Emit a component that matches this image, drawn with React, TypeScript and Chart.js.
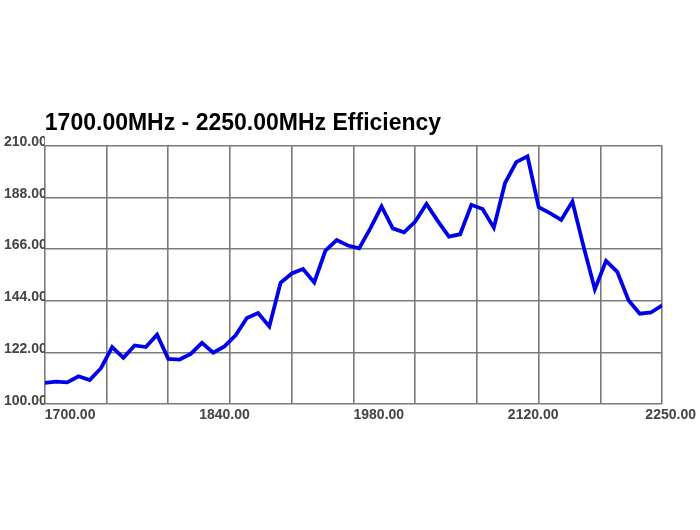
import React, { useEffect, useRef } from "react";
import { Chart, registerables } from "chart.js";

Chart.register(...registerables);

const titleText = "1700.00MHz - 2250.00MHz Efficiency";

const frequencies = [
  1700, 1710, 1720, 1730, 1740, 1750, 1760, 1770, 1780, 1790,
  1800, 1810, 1820, 1830, 1840, 1850, 1860, 1870, 1880, 1890,
  1900, 1910, 1920, 1930, 1940, 1950, 1960, 1970, 1980, 1990,
  2000, 2010, 2020, 2030, 2040, 2050, 2060, 2070, 2080, 2090,
  2100, 2110, 2120, 2130, 2140, 2150, 2160, 2170, 2180, 2190,
  2200, 2210, 2220, 2230, 2240, 2250,
];

const efficiency = [
  109.1, 109.6, 109.3, 111.9, 110.3, 115.3, 124.3, 119.7, 125.0, 124.3,
  129.6, 119.3, 119.0, 121.4, 126.1, 121.9, 124.6, 129.3, 136.7, 138.8,
  133.1, 151.6, 155.6, 157.5, 151.8, 165.3, 169.8, 167.5, 166.3, 174.8,
  184.1, 174.8, 173.1, 177.7, 185.2, 178.0, 171.3, 172.3, 184.8, 183.0,
  175.1, 194.1, 203.0, 205.4, 183.8, 181.3, 178.4, 186.2, 167.0, 148.9,
  161.0, 156.3, 144.2, 138.5, 139.0, 142.1,
];

// x-axis label positions (axis values) and their texts
const xLabelValues = [1700, 1837.5, 1975, 2112.5, 2235];
const xTickLabels = ["1700.00", "1840.00", "1980.00", "2120.00", "2250.00"];

const xMin = 1700;
const xMax = 2250;
const xGridStep = 55;
const yMin = 100;
const yMax = 210;
const yStep = 22;

export default function App() {
  const canvasRef = useRef<HTMLCanvasElement | null>(null);

  useEffect(() => {
    if (!canvasRef.current) return;
    Chart.defaults.font.family = "'Liberation Sans', Arial, sans-serif";
    const gridColor = "#7a7a7a";
    const tickColor = "#444";
    const chart = new Chart(canvasRef.current, {
      type: "line",
      data: {
        datasets: [
          {
            data: frequencies.map((f, i) => ({ x: f, y: efficiency[i] })),
            borderColor: "#0000e8",
            borderWidth: 3.8,
            pointRadius: 0,
            tension: 0,
            fill: false,
            xAxisID: "x",
            yAxisID: "y",
          },
        ],
      },
      options: {
        animation: false,
        responsive: false,
        layout: { padding: { top: 110, left: 4, right: 3, bottom: 103 } },
        plugins: {
          legend: { display: false },
          tooltip: { enabled: false },
          title: {
            display: true,
            text: titleText,
            align: "start",
            fullSize: false,
            color: "#000",
            font: { size: 23, weight: "bold" },
            padding: { top: 0, bottom: 8 },
          },
        },
        scales: {
          x: {
            type: "linear",
            position: "bottom",
            min: xMin,
            max: xMax,
            border: { display: false },
            grid: { color: gridColor, lineWidth: 1.6, drawTicks: false },
            ticks: { display: false, stepSize: xGridStep },
          },
          xLabels: {
            type: "linear",
            position: "bottom",
            min: xMin,
            max: xMax,
            border: { display: false },
            grid: { display: false, drawTicks: false },
            afterBuildTicks: (axis: any) => {
              axis.ticks = xLabelValues.map((v) => ({ value: v }));
            },
            ticks: {
              align: "start",
              autoSkip: false,
              maxRotation: 0,
              minRotation: 0,
              padding: 3,
              color: tickColor,
              font: { size: 14, weight: "bold" },
              callback: (_v: any, i: number) => xTickLabels[i],
            },
          },
          y: {
            type: "linear",
            min: yMin,
            max: yMax,
            border: { display: false },
            grid: { color: gridColor, lineWidth: 1.6, drawTicks: false },
            ticks: {
              stepSize: yStep,
              crossAlign: "far",
              padding: -1,
              labelOffset: -3.5,
              color: tickColor,
              font: { size: 14, weight: "bold" },
              callback: (v: any) => Number(v).toFixed(2),
            },
          },
        },
      },
    } as any);
    return () => chart.destroy();
  }, []);

  return (
    <div
      style={{
        position: "fixed",
        left: 0,
        top: 0,
        width: 700,
        height: 530,
        background: "#fff",
      }}
    >
      <canvas ref={canvasRef} width={700} height={530} style={{ width: 700, height: 530, display: "block" }} />
    </div>
  );
}
